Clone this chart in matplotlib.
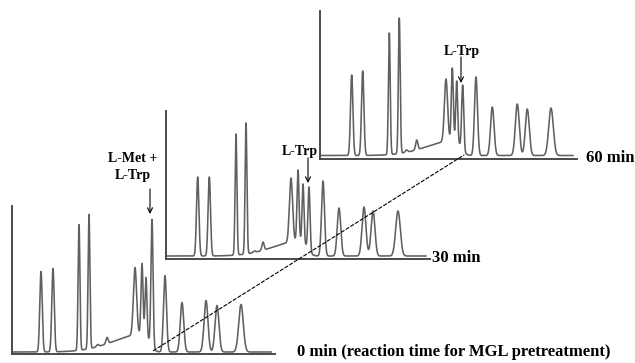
import numpy as np
import matplotlib
matplotlib.use("Agg")
import matplotlib.pyplot as plt
from matplotlib.patches import ConnectionPatch

# ---------------- data (retention positions / apex heights, arbitrary units) ----------------
rt_0 = [28.7, 40.7, 66.7, 76.7, 85.4, 94.7, 122.7, 129.7, 133.7, 139.7, 152.7, 169.7, 193.7, 204.7, 228.7]
h_0 = [82, 85, 129, 139, 9, 16, 86, 90, 76, 134, 78, 51, 53, 48, 49]

rt_30 = [32.0, 43.6, 70.3, 80.3, 88.5, 97.3, 125.3, 132.3, 137.3, 143.3, 157.3, 173.3, 198.3, 207.3, 232.3]
h_30 = [82, 82, 125, 136, 8, 17, 81, 89, 75, 72, 78, 51, 52, 48, 48]

rt_60 = [32.2, 43.2, 69.8, 79.8, 87.0, 97.2, 126.5, 132.8, 137.2, 143.2, 156.5, 172.8, 197.8, 207.8, 231.5]
h_60 = [84, 88, 126, 141, 9, 19, 80, 91, 78, 74, 82, 52, 55, 50, 51]

peak_sigma = [1.2, 1.2, 0.9, 0.9, 1.2, 1.1, 1.6, 1.0, 0.95, 1.05, 1.5, 1.75, 1.95, 1.95, 2.3]

baseline_offset = [1.5, 3.0, 3.5]
hump_center = [132, 136, 136]
hump_height = [18, 15, 15]
hump_sigma_left = [30, 28, 28]
hump_sigma_right = [5, 5, 5]

time_labels = ["0 min (reaction time for MGL pretreatment)", "30 min", "60 min"]
trp_index = 9  # L-Trp (co-eluting with L-Met at 0 min)

# ---------------- layout (pixels in a 635x363 canvas) ----------------
W, H = 635, 363
panel_px = [  # left, top, right, bottom
    (12.3, 206, 275, 353.5),
    (165.7, 111, 430, 259),
    (319.5, 11, 577, 159),
]
label_px = [(297, 352), (432, 257.5), (586, 158.5)]

fig = plt.figure(figsize=(W / 100, H / 100), dpi=100)

serif = ["Liberation Serif", "DejaVu Serif"]
trace_color = "#606060"
axis_color = "#4a4a4a"


def hump(x, k):
    s = np.where(x < hump_center[k], hump_sigma_left[k], hump_sigma_right[k])
    return hump_height[k] * np.exp(-0.5 * ((x - hump_center[k]) / s) ** 2)


def shape(x, c, s):
    return np.exp(-0.5 * ((x - c) / s) ** 2)


rts = [rt_0, rt_30, rt_60]
hts = [h_0, h_30, h_60]
axes = []
for k in range(3):
    l, t, r, b = panel_px[k]
    ax = fig.add_axes([l / W, 1 - b / H, (r - l) / W, (b - t) / H])
    ax.set_facecolor("none")
    xmax = r - l
    ymax = b - t
    ax.set_xlim(0, xmax)
    ax.set_ylim(0, ymax)
    for sp in ["top", "right"]:
        ax.spines[sp].set_visible(False)
    for sp in ["left", "bottom"]:
        ax.spines[sp].set_color(axis_color)
        ax.spines[sp].set_linewidth(1.4)
    ax.set_xticks([])
    ax.set_yticks([])

    rt = np.array(rts[k], dtype=float)
    ht = np.array(hts[k], dtype=float)
    sg = np.array(peak_sigma, dtype=float)
    G = shape(rt[:, None], rt[None, :], sg[None, :])
    target = ht - baseline_offset[k] - hump(rt, k)
    amp = np.linalg.solve(G, target)
    amp = np.clip(amp, 0, None)

    x = np.linspace(0, xmax - 4, 8000)
    y = baseline_offset[k] + hump(x, k)
    for a, c, s in zip(amp, rt, sg):
        y = y + a * shape(x, c, s)
    ax.plot(x, y, color=trace_color, lw=1.15, solid_joinstyle="round")
    axes.append(ax)

    lx, ly = label_px[k]
    fig.text(lx / W, 1 - ly / H, time_labels[k], fontfamily=serif, fontweight="bold",
             fontsize=12, ha="left", va="center")

arrow_kw = dict(arrowstyle="->", lw=0.8, color="black", shrinkA=0, shrinkB=0,
                mutation_scale=9)

# 0 min: L-Met + L-Trp
ax0 = axes[0]
ax0.annotate("", xy=(137.7, 139.5), xytext=(137.7, 164.5), arrowprops=arrow_kw,
             annotation_clip=False)
ax0.text(120.7, 186.5, "L-Met +\nL-Trp", fontfamily=serif, fontweight="bold", fontsize=10,
         ha="center", va="center", linespacing=1.45, clip_on=False)

# 30 min: L-Trp
ax1 = axes[1]
ax1.annotate("", xy=(142.3, 76), xytext=(142.3, 101), arrowprops=arrow_kw,
             annotation_clip=False)
ax1.text(133.8, 108, "L-Trp", fontfamily=serif, fontweight="bold", fontsize=10,
         ha="center", va="center", clip_on=False)

# 60 min: L-Trp
ax2 = axes[2]
ax2.annotate("", xy=(141.5, 76), xytext=(141.5, 102), arrowprops=arrow_kw,
             annotation_clip=False)
ax2.text(142, 108, "L-Trp", fontfamily=serif, fontweight="bold", fontsize=10,
         ha="center", va="center", clip_on=False)

# dashed connector between the L-Trp peak bases (0 min -> 60 min)
con = ConnectionPatch(xyA=(rt_0[trp_index] + 1.3, 2.8), coordsA=ax0.transData,
                      xyB=(rt_60[trp_index] + 1.3, 4.0), coordsB=ax2.transData,
                      linestyle=(0, (3, 2)), lw=0.8, color="black")
fig.add_artist(con)

fig.savefig("out.png", dpi=100, facecolor="white")
